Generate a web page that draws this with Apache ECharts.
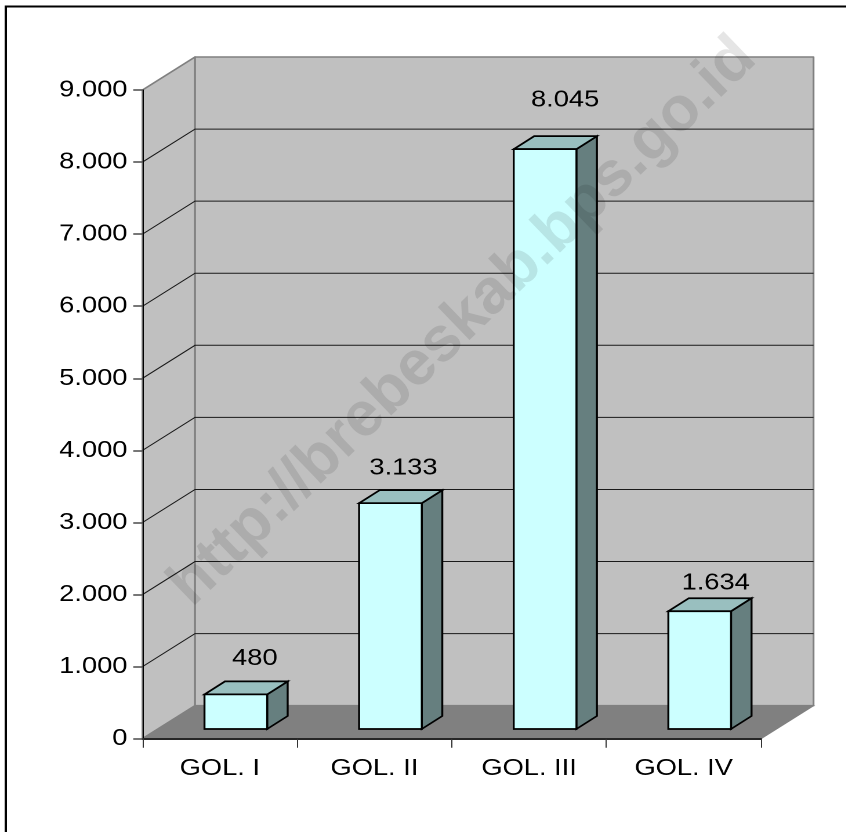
<!DOCTYPE html>
<html>
<head>
<meta charset="utf-8">
<script src="https://cdn.jsdelivr.net/npm/echarts@6/dist/echarts.min.js"></script>
<style>
html,body{margin:0;padding:0;background:#fff;overflow:hidden;width:846px;height:832px}
#c{position:absolute;left:0;top:0;width:730px;height:832px;transform:scaleX(1.16);transform-origin:0 0}
</style>
</head>
<body>
<div id="c"></div>
<script>
const categories = ['GOL. I', 'GOL. II', 'GOL. III', 'GOL. IV'];
const values = [480, 3133, 8045, 1634];
const valueLabels = ['480', '3.133', '8.045', '1.634'];
const yTickLabels = ['0', '1.000', '2.000', '3.000', '4.000', '5.000', '6.000', '7.000', '8.000', '9.000'];
const gridValues = [1000, 2000, 3000, 4000, 5000, 6000, 7000, 8000];

// Label placement relative to the bar's front-top centre (page pixels); it is hand-placed in the source.
const labelShiftX = [19, 13, 20, 16];
const labelShiftY = [-36, -35, -49, -28];

const S = 1.16;                 // horizontal stretch of the whole picture
const WALL_DX = 52.5 / S, WALL_DY = -33;
const BAR_DX = 20.5 / S, BAR_DY = -13;
const BAR_SHIFT_X = 16 / S, BAR_SHIFT_Y = -9.7;
const BAR_WIDTH = 62.7 / S;
const FONT = '"Liberation Sans", Arial, sans-serif';

function pts(a) { return { points: a }; }

function renderWalls(params) {
  const g = params.coordSys;
  const l = g.x, r = g.x + g.width, t = g.y, b = g.y + g.height;
  const border = { stroke: '#808080', lineWidth: 1.6, lineJoin: 'round' };
  return { type: 'group', children: [
    { type: 'polygon', shape: pts([[l, t], [l + WALL_DX, t + WALL_DY], [l + WALL_DX, b + WALL_DY], [l, b]]),
      style: Object.assign({ fill: '#C0C0C0' }, border) },
    { type: 'polygon', shape: pts([[l + WALL_DX, t + WALL_DY], [r + WALL_DX, t + WALL_DY], [r + WALL_DX, b + WALL_DY], [l + WALL_DX, b + WALL_DY]]),
      style: Object.assign({ fill: '#C0C0C0' }, border) },
    { type: 'polygon', shape: pts([[l, b], [l + WALL_DX, b + WALL_DY], [r + WALL_DX, b + WALL_DY], [r, b]]),
      style: { fill: '#808080', stroke: '#808080', lineWidth: 1 } }
  ] };
}

function renderGrid(params, api) {
  const g = params.coordSys;
  const l = g.x, r = g.x + g.width;
  const y = api.coord([0, api.value(0)])[1];
  const line = { stroke: '#1a1a1a', lineWidth: 1, fill: null };
  return { type: 'group', children: [
    { type: 'polyline', shape: pts([[l, y], [l + WALL_DX, y + WALL_DY], [r + WALL_DX, y + WALL_DY]]), style: line }
  ] };
}

function renderBars(params, api) {
  const i = api.value(0), v = api.value(1);
  const base = api.coord([i, 0]), top = api.coord([i, v]);
  const x0 = base[0] + BAR_SHIFT_X - BAR_WIDTH / 2, x1 = x0 + BAR_WIDTH;
  const yb = base[1] + BAR_SHIFT_Y, yt = top[1] + BAR_SHIFT_Y;
  const edge = { stroke: '#000', lineWidth: 1.7, lineJoin: 'miter' };
  return { type: 'group', children: [
    { type: 'polygon', shape: pts([[x1, yb], [x1 + BAR_DX, yb + BAR_DY], [x1 + BAR_DX, yt + BAR_DY], [x1, yt]]),
      style: Object.assign({ fill: '#667F7F' }, edge) },
    { type: 'polygon', shape: pts([[x0, yt], [x0 + BAR_DX, yt + BAR_DY], [x1 + BAR_DX, yt + BAR_DY], [x1, yt]]),
      style: Object.assign({ fill: '#99BFBF' }, edge) },
    { type: 'polygon', shape: pts([[x0, yb], [x0, yt], [x1, yt], [x1, yb]]),
      style: Object.assign({ fill: '#CCFFFF' }, edge) },
    { type: 'text', style: {
        text: valueLabels[i],
        x: (x0 + x1) / 2 + labelShiftX[i] / S, y: yt + labelShiftY[i],
        align: 'center', verticalAlign: 'middle',
        font: '23.5px ' + FONT, fill: '#000' } }
  ] };
}

const chart = echarts.init(document.getElementById('c'), null, { devicePixelRatio: 2 });
chart.setOption({
  animation: false,
  backgroundColor: '#fff',
  grid: { left: 142.5 / S, top: 90, width: 618.5 / S, height: 648.7, containLabel: false },
  xAxis: {
    type: 'category', data: categories, boundaryGap: true, z: 1,
    axisLine: { lineStyle: { color: '#262626', width: 2 } },
    axisTick: { show: true, length: 9, alignWithLabel: false, lineStyle: { color: '#333', width: 1 } },
    axisLabel: { color: '#000', fontFamily: '"Liberation Sans", Arial, sans-serif', fontSize: 23.5, margin: 18, interval: 0 },
    splitLine: { show: false }
  },
  yAxis: {
    type: 'value', min: 0, max: 9000, interval: 1000, z: 1,
    axisLine: { show: true, lineStyle: { color: '#000', width: 1 } },
    axisTick: { show: true, length: 8, lineStyle: { color: '#555', width: 1.6 } },
    axisLabel: { color: '#000', fontFamily: '"Liberation Sans", Arial, sans-serif', fontSize: 23.5, margin: 13,
      padding: [6, 0, 0, 0],
      formatter: (v) => yTickLabels[Math.round(v / 1000)] },
    splitLine: { show: false }
  },
  series: [
    { type: 'custom', name: 'walls', coordinateSystem: 'cartesian2d', z: 0, clip: false, silent: true,
      data: [[0, 0]], encode: { x: 0, y: 1 }, renderItem: renderWalls },
    { type: 'custom', name: 'gridlines', coordinateSystem: 'cartesian2d', z: 0, clip: false, silent: true,
      data: gridValues.map(v => [v]), encode: { y: 0 }, renderItem: renderGrid },
    { type: 'custom', name: 'bars', coordinateSystem: 'cartesian2d', z: 3, clip: false, silent: true,
      data: values.map((v, i) => [i, v]), encode: { x: 0, y: 1 }, renderItem: renderBars }
  ],
  graphic: [
    { type: 'polyline', z: 50, silent: true,
      shape: { points: [[5.8 / S, 832], [5.8 / S, 6.5], [730, 6.5]] },
      style: { stroke: '#000', lineWidth: 2, fill: null } },
    { type: 'group', x: 463 / S, y: 322, scaleX: 1 / S, silent: true, children: [
      { type: 'text', z: 100, silent: true, rotation: 44 * Math.PI / 180,
        style: { text: 'http://brebeskab.bps.go.id', align: 'center', verticalAlign: 'middle',
          font: 'bold 63px ' + FONT, fill: 'rgba(0,0,0,0.1)' } }
    ] }
  ]
});
</script>
</body>
</html>
